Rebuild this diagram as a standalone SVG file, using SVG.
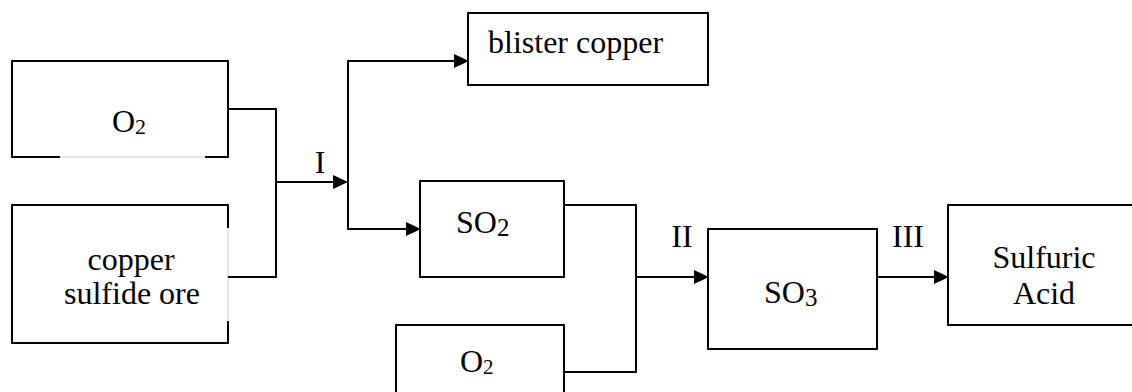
<svg xmlns="http://www.w3.org/2000/svg" width="1132" height="392" viewBox="0 0 1132 392">
<style>
.box{fill:none;stroke:#000;stroke-width:2}
.faint{fill:none;stroke:#c8c8c8;stroke-width:1}
.conn{fill:none;stroke:#000;stroke-width:2}
.t{font-family:'Liberation Serif','Times New Roman',serif;font-size:32px;fill:#000}
</style>
<defs>
<marker id="arr" markerUnits="userSpaceOnUse" markerWidth="15" markerHeight="14" refX="13" refY="7" orient="auto">
<path d="M0,0 L15,7 L0,14 Z" fill="#000"/>
</marker>
</defs>
<rect width="1132" height="392" fill="#fff"/>
<g id="o2-top">
<path class="box" d="M60,157 H12 V61 H228 V157 H205"/>
<path class="faint" d="M60,157 H205"/>
<text class="t" x="112" y="132">O<tspan font-size="22" dy="2">2</tspan></text>
</g>
<g id="ore">
<path class="box" d="M228,228 V205 H12 V343 H228 V321"/>
<path class="faint" d="M228,228 V321"/>
<text class="t" x="131" y="270" text-anchor="middle">copper</text>
<text class="t" x="132" y="304" text-anchor="middle">sulfide ore</text>
</g>
<g id="blister">
<rect class="box" x="468" y="13" width="240" height="72"/>
<text class="t" x="488" y="53">blister copper</text>
</g>
<g id="so2">
<rect class="box" x="420" y="181" width="144" height="96"/>
<text class="t" x="456" y="233">SO<tspan font-size="25" dy="3">2</tspan></text>
</g>
<g id="o2-bottom">
<path class="box" d="M396,400 V325 H564 V400"/>
<text class="t" x="460" y="372">O<tspan font-size="21" dy="2">2</tspan></text>
</g>
<g id="so3">
<rect class="box" x="708" y="229" width="169" height="120"/>
<text class="t" x="764" y="303">SO<tspan font-size="25" dy="3">3</tspan></text>
</g>
<g id="acid">
<path class="box" d="M1140,205 H948 V325 H1140"/>
<text class="t" x="1044" y="268" text-anchor="middle">Sulfuric</text>
<text class="t" x="1044" y="304" text-anchor="middle">Acid</text>
</g>
<g id="connectors">
<path class="conn" d="M228,109 H276 V277 H228"/>
<line class="conn" x1="276" y1="182" x2="346" y2="182" marker-end="url(#arr)"/>
<path class="conn" d="M348,61 V229"/>
<line class="conn" x1="347" y1="61" x2="467" y2="61" marker-end="url(#arr)"/>
<line class="conn" x1="347" y1="229" x2="419" y2="229" marker-end="url(#arr)"/>
<path class="conn" d="M564,205 H636 V372 H564"/>
<line class="conn" x1="636" y1="277" x2="707" y2="277" marker-end="url(#arr)"/>
<line class="conn" x1="877" y1="277" x2="947" y2="277" marker-end="url(#arr)"/>
<text class="t" x="320" y="173" text-anchor="middle">I</text>
<text class="t" x="682" y="247" text-anchor="middle">II</text>
<text class="t" x="908" y="247" text-anchor="middle">III</text>
</g>
</svg>
